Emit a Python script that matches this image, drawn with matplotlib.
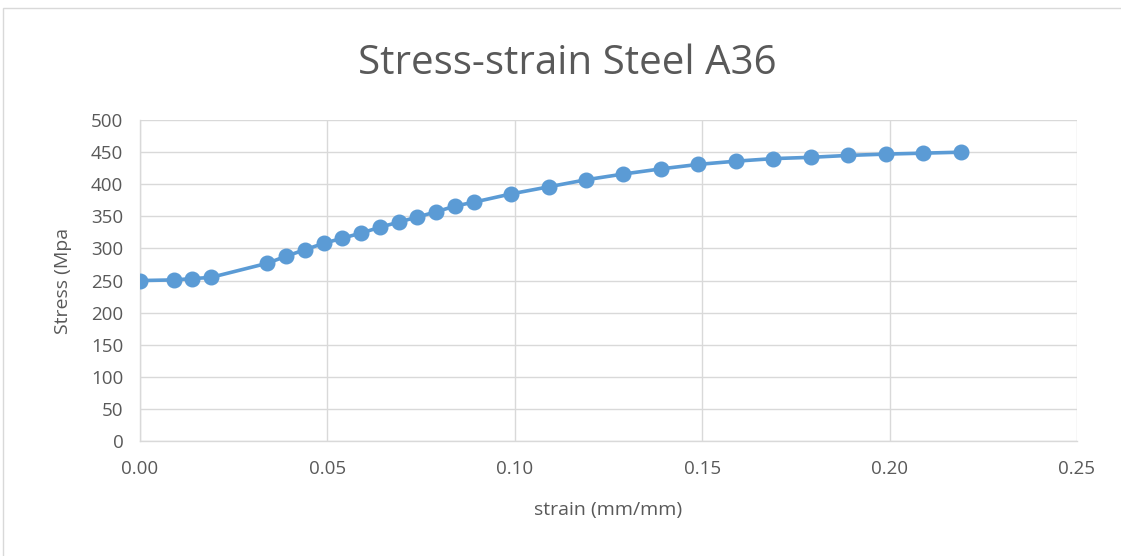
import matplotlib.pyplot as plt
from matplotlib.patches import Rectangle

plt.rcParams['font.family'] = ['Open Sans', 'DejaVu Sans']

# Stress-strain readings
strain = [0.0, 0.009, 0.014, 0.019, 0.034, 0.039, 0.044, 0.049, 0.054, 0.059,
          0.064, 0.069, 0.074, 0.079, 0.084, 0.089, 0.099, 0.109, 0.119, 0.129,
          0.139, 0.149, 0.159, 0.169, 0.179, 0.189, 0.199, 0.209, 0.219]
stress = [250, 251, 253, 255, 277, 288, 298, 308, 316, 324,
          333, 341, 349, 357, 366, 372, 385, 396, 407, 416,
          424, 431, 436, 440, 442, 445, 447, 448.5, 450]

xticks = [0.0, 0.05, 0.10, 0.15, 0.20, 0.25]
yticks = list(range(0, 501, 50))

fig = plt.figure(figsize=(11.21, 5.56), dpi=100)
ax = fig.add_axes([0.1249, 0.2068, 0.8358, 0.5772])

ax.plot(strain, stress, color='#5B9BD5', lw=2.6, marker='o', markersize=10.5, zorder=3)

ax.set_xlim(0, 0.25)
ax.set_ylim(0, 500)
ax.set_xticks(xticks)
ax.set_xticklabels(['%.2f' % v for v in xticks])
ax.set_yticks(yticks)
ax.grid(True, color='#d9d9d9', lw=1)
ax.set_axisbelow(True)
for s in ['top', 'right']:
    ax.spines[s].set_visible(False)
for s in ['left', 'bottom']:
    ax.spines[s].set_color('#d9d9d9')
    ax.spines[s].set_linewidth(1)
ax.tick_params(axis='y', length=0, labelsize=13.5, colors='#595959', pad=12)
ax.tick_params(axis='x', length=0, labelsize=13.5, colors='#595959', pad=14)

ax.set_xlabel('strain (mm/mm)', fontsize=14, color='#595959', labelpad=16)
ax.set_ylabel('Stress (Mpa', fontsize=14, color='#595959', labelpad=14)
fig.text(0.506, 0.886, 'Stress-strain Steel A36', fontsize=29, color='#595959',
         ha='center', va='center')

# chart frame
fig.patches.append(Rectangle((0.003, -0.1), 1.1, 1.086, transform=fig.transFigure,
                             fill=False, edgecolor='#d9d9d9', lw=1))

fig.savefig('out.png', dpi=100)
